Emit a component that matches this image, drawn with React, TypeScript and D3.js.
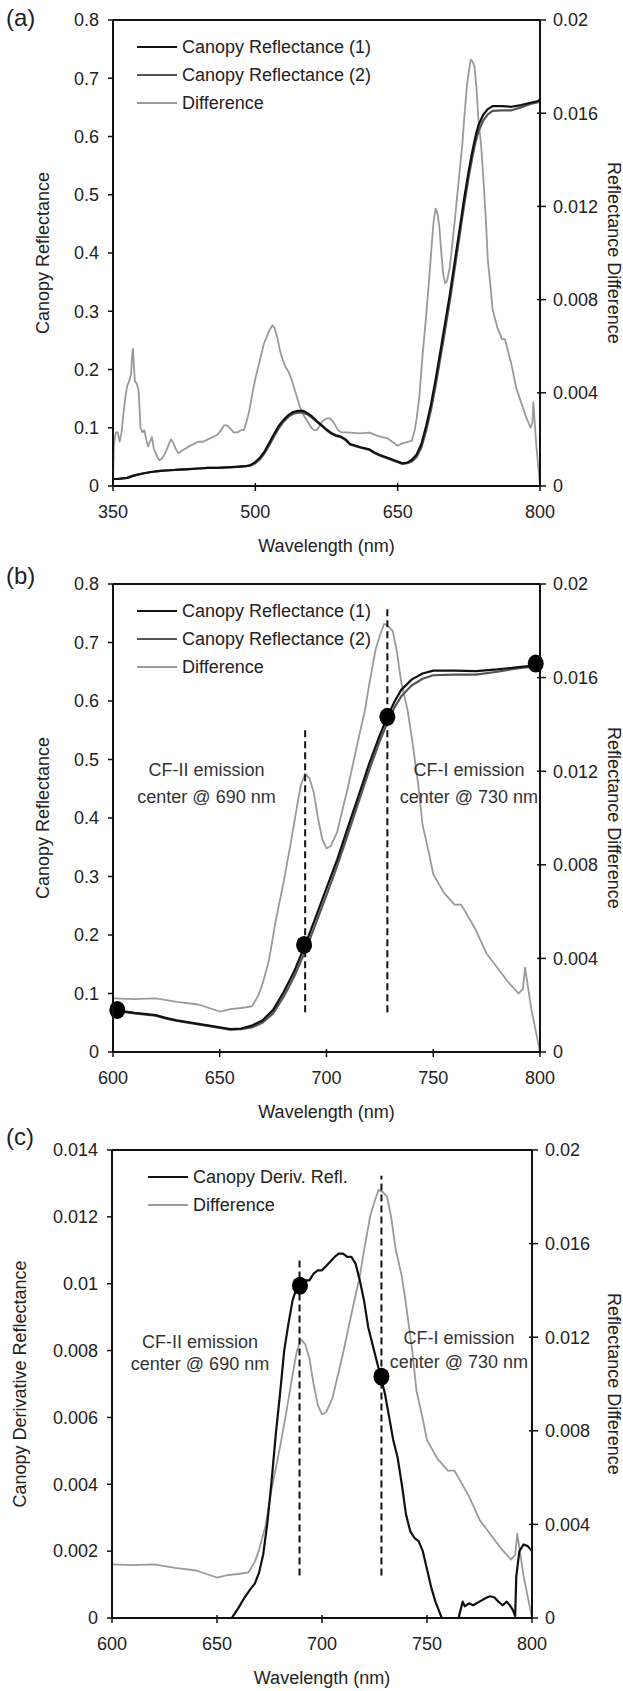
import React from "react";
import * as d3 from "d3";

// ---------- Data ----------
// Reflectance difference (right axis), 350-800 nm
const diffWl = [
  350, 351, 353, 355, 357, 359, 361, 363, 365, 367, 369, 370, 371, 372, 373, 375, 377, 378, 379, 381,
  383, 385, 387, 389, 391, 393, 396, 399, 402, 405, 408, 411, 413, 416, 419, 422, 426, 430, 435, 440,
  445, 450, 455, 460, 464, 467, 470, 473, 477, 481, 485, 488, 491, 494, 497, 500, 503, 506, 509, 512,
  515, 518, 520, 523, 526, 529, 532, 535, 538, 541, 544, 547, 550, 553, 556, 559, 562, 565, 568, 571,
  575, 579, 583, 587, 591, 595,
  600, 610, 620, 630, 640, 650, 655, 660, 665, 668, 670, 673, 676, 680, 683, 686, 688, 690, 692, 694,
  696, 698, 700, 702, 705, 710, 715, 718, 720, 723, 725, 727, 729, 731, 733, 735, 738, 740, 743, 745,
  748, 750, 755, 760, 763, 765, 770, 775, 780, 785, 790, 792, 793, 794, 796, 798, 800,
];
const diffVal = [
  0.0004, 0.0018, 0.0023, 0.0023, 0.0019, 0.0023, 0.0031, 0.0038, 0.0043, 0.0045, 0.0048, 0.0055, 0.0059, 0.0052, 0.0045, 0.0044, 0.0041, 0.0033, 0.0025, 0.0023,
  0.0024, 0.002, 0.0017, 0.0019, 0.0021, 0.0016, 0.0013, 0.0011, 0.0012, 0.0014, 0.0017, 0.002, 0.0019, 0.0016, 0.0014, 0.0015, 0.0016, 0.0017, 0.0018, 0.0019,
  0.0019, 0.002, 0.0021, 0.0022, 0.0024, 0.0026, 0.0026, 0.0025, 0.0023, 0.0023, 0.0024, 0.0024, 0.0028, 0.0033, 0.004, 0.0046, 0.0051, 0.0056, 0.0061, 0.0064,
  0.0067, 0.0069, 0.0068, 0.0064, 0.0058, 0.0054, 0.0051, 0.0049, 0.0046, 0.0042, 0.0038, 0.0034, 0.0031, 0.0029, 0.0027, 0.0025, 0.0024, 0.0024, 0.0026, 0.0028,
  0.0029, 0.0029, 0.0027, 0.0024, 0.0023, 0.0023,
  0.00229, 0.00226, 0.00229, 0.00214, 0.00203, 0.00173, 0.00183, 0.00188, 0.00195, 0.0024, 0.0029, 0.0039, 0.0055, 0.0073, 0.0088, 0.0104, 0.0114, 0.0119, 0.0117, 0.0111,
  0.01, 0.0091, 0.0087, 0.0088, 0.0094, 0.0113, 0.0134, 0.0146, 0.0157, 0.0172, 0.0178, 0.0183, 0.0182, 0.018, 0.0171, 0.0158, 0.0146, 0.0134, 0.0114, 0.0097,
  0.0085, 0.0076, 0.0068, 0.0063, 0.0063, 0.006, 0.0052, 0.0042, 0.0036, 0.003, 0.0025, 0.0027, 0.0036, 0.003, 0.0018, 0.0009, 0.0,
];

// Canopy reflectance (left axis), 350-800 nm
const reflWl = [
  350, 355, 360, 365, 370, 375, 380, 390, 400, 410, 420, 430, 440, 450, 460, 470, 480, 490, 495, 500,
  505, 510, 515, 520, 525, 530, 535, 540, 545, 550, 555, 560, 565, 570, 575, 580, 585, 590, 595, 600,
  610, 620, 625, 630, 640, 650, 655, 660, 665, 670, 675, 680, 685, 690, 695, 700, 705, 710, 715, 720,
  725, 728.5, 732, 735, 740, 745, 750, 760, 770, 780, 790, 798, 800,
];
const refl1 = [
  0.012, 0.012, 0.013, 0.014, 0.017, 0.019, 0.021, 0.024, 0.026, 0.027, 0.028, 0.029, 0.03, 0.031, 0.031, 0.032, 0.033, 0.034, 0.036, 0.041,
  0.049, 0.06, 0.075, 0.09, 0.104, 0.114, 0.122, 0.127, 0.129, 0.129, 0.125, 0.119, 0.111, 0.104, 0.097, 0.091, 0.087, 0.085, 0.08, 0.072,
  0.067, 0.063, 0.058, 0.054, 0.048, 0.042, 0.039, 0.04, 0.045, 0.054, 0.072, 0.103, 0.139, 0.183, 0.231, 0.28, 0.329, 0.384, 0.438, 0.493,
  0.542, 0.573, 0.6, 0.619, 0.637, 0.647, 0.652, 0.652, 0.651, 0.654, 0.658, 0.661, 0.664,
];
const refl2 = [
  0.012, 0.012, 0.013, 0.014, 0.017, 0.019, 0.021, 0.024, 0.026, 0.027, 0.028, 0.029, 0.03, 0.031, 0.031, 0.032, 0.033, 0.034, 0.035, 0.039,
  0.046, 0.057, 0.071, 0.086, 0.1, 0.111, 0.119, 0.124, 0.126, 0.126, 0.123, 0.117, 0.11, 0.103, 0.096, 0.09, 0.086, 0.084, 0.079, 0.071,
  0.066, 0.062, 0.057, 0.053, 0.047, 0.041, 0.038, 0.039, 0.042, 0.05, 0.066, 0.095, 0.13, 0.172, 0.22, 0.268, 0.318, 0.372, 0.427, 0.482,
  0.532, 0.563, 0.59, 0.608, 0.627, 0.638, 0.644, 0.645, 0.645, 0.65, 0.656, 0.659, 0.662,
];

// Canopy derivative reflectance (panel c); null = below axis range
const derivWl = [
  657, 660, 663, 666, 668, 670, 672, 674, 676, 678, 680, 682, 684, 686, 688, 690, 692, 694, 696, 698,
  700, 703, 706, 708, 710, 712, 714, 716, 718, 720, 722, 724, 726, 728, 730, 732, 734, 736, 738, 740,
  742, 744, 746, 748, 750, 752, 754, 756, 757, 761, 765, 767, 768, 770, 772, 775, 778, 780, 782, 784,
  786, 788, 790, 791, 792, 792.5, 794, 796, 798, 800,
];
const derivVal = [
  0, 0.00028, 0.0006, 0.00087, 0.00103, 0.00135, 0.0019, 0.00285, 0.0041, 0.0055, 0.0067, 0.008, 0.0088, 0.0095, 0.0099, 0.01, 0.0101, 0.0101, 0.0103, 0.0104,
  0.0104, 0.0106, 0.0108, 0.0109, 0.0109, 0.0108, 0.0108, 0.0106, 0.0101, 0.0095, 0.0087, 0.0082, 0.0077, 0.0072, 0.0067, 0.006, 0.0053, 0.0048, 0.004, 0.0031,
  0.0026, 0.0024, 0.0023, 0.002, 0.00146, 0.00092, 0.00049, 0.00017, 0, null, 0, 0.00049, 0.00035, 0.00044, 0.00038, 0.00049, 0.0006, 0.00065, 0.00062, 0.00049,
  0.00038, 0.00049, 0.00033, 0.00022, 0.00006, 0.00124, 0.002, 0.0022, 0.00215, 0.002,
];

// Ticks
const xTicksA = [350, 500, 650, 800];
const xTicksBC = [600, 650, 700, 750, 800];
const reflTicks = [0, 0.1, 0.2, 0.3, 0.4, 0.5, 0.6, 0.7, 0.8];
const derivTicks = [0, 0.002, 0.004, 0.006, 0.008, 0.01, 0.012, 0.014];
const diffTicks = [0, 0.004, 0.008, 0.012, 0.016, 0.02];

// Markers / annotations
const dotsB = [
  [602, 0.072],
  [689.5, 0.183],
  [728.5, 0.573],
  [798, 0.664],
];
const dashB = [
  [690, 0.068, 0.557],
  [728.5, 0.068, 0.757],
];
const dotsC = [
  [689.5, 0.00994],
  [728.3, 0.00722],
];
const dashC = [
  [689.3, 0.00127, 0.0108],
  [728.3, 0.00127, 0.01323],
];
const notesB = [
  ["CF-II emission", 643.8, 0.482],
  ["center @ 690 nm", 643.8, 0.436],
  ["CF-I emission", 766.7, 0.482],
  ["center @ 730 nm", 766.7, 0.436],
];
const notesC = [
  ["CF-II emission", 641.9, 0.00827],
  ["center @ 690 nm", 641.9, 0.0076],
  ["CF-I emission", 765.2, 0.00838],
  ["center @ 730 nm", 765.2, 0.00766],
];

const FONT = "'Liberation Sans', Arial, Helvetica, sans-serif";
const TXT = "#222";
const C1 = "#111";
const C2 = "#555";
const CD = "#9a9a9a";

const fmt = (v: number) => String(Number(v.toFixed(6)));

type Series = { xs: number[]; ys: (number | null)[]; axis: "L" | "R"; color: string; width: number };

function Panel(props: any) {
  const {
    id, left, right, top, bottom, xDomain, xTicks, yDomain, yTicks, leftTitle, leftTitleX,
    series, legend, legendLineX, label, labelY, dots, dashes, notes,
  } = props;
  const x = d3.scaleLinear().domain(xDomain).range([left, right]);
  const yL = d3.scaleLinear().domain(yDomain).range([bottom, top]);
  const yR = d3.scaleLinear().domain([0, 0.02]).range([bottom, top]);
  const cy = (top + bottom) / 2;
  const cx = (left + right) / 2;

  return (
    <g>
      <defs>
        <clipPath id={`clip-${id}`}>
          <rect x={left} y={top - 2} width={right - left} height={bottom - top + 2} />
        </clipPath>
      </defs>
      <text x={6} y={labelY} fontSize={24} fill={TXT} fontFamily={FONT}>{label}</text>

      {/* series */}
      <g clipPath={`url(#clip-${id})`}>
        {series.map((s: Series, i: number) => {
          const y = s.axis === "L" ? yL : yR;
          const pts = s.xs.map((xv, k) => [xv, s.ys[k]] as [number, number | null]);
          const line = d3
            .line<[number, number | null]>()
            .defined((d) => d[1] != null)
            .x((d) => x(d[0]))
            .y((d) => y(d[1] as number));
          return (
            <path key={i} d={line(pts) || ""} fill="none" stroke={s.color} strokeWidth={s.width} strokeLinejoin="round" />
          );
        })}
      </g>

      {/* dashed lines */}
      {(dashes || []).map((d: number[], i: number) => (
        <line key={i} x1={x(d[0])} x2={x(d[0])} y1={yL(d[1])} y2={yL(d[2])} stroke="#111" strokeWidth={2} strokeDasharray="7,4" />
      ))}
      {(dots || []).map((d: number[], i: number) => (
        <ellipse key={i} cx={x(d[0])} cy={yL(d[1])} rx={8} ry={9} fill="#000" />
      ))}
      {(notes || []).map((n: any[], i: number) => (
        <text key={i} x={x(n[1])} y={yL(n[2])} dy="0.35em" textAnchor="middle" fontSize={18} fill="#333" fontFamily={FONT}>
          {n[0]}
        </text>
      ))}

      {/* axes frame */}
      <line x1={left} x2={right} y1={top} y2={top} stroke="#111" strokeWidth={2} />
      <line x1={left} x2={right} y1={bottom} y2={bottom} stroke="#111" strokeWidth={2} />
      <line x1={left} x2={left} y1={top} y2={bottom} stroke="#111" strokeWidth={2} />
      <line x1={right} x2={right} y1={top} y2={bottom} stroke="#111" strokeWidth={2} />

      {/* left ticks */}
      {yTicks.map((t: number) => (
        <g key={`l${t}`}>
          <line x1={left - 5} x2={left + 1} y1={yL(t)} y2={yL(t)} stroke="#111" strokeWidth={1.5} />
          <text x={left - 14} y={yL(t)} dy="0.35em" textAnchor="end" fontSize={18} fill={TXT} fontFamily={FONT}>{fmt(t)}</text>
        </g>
      ))}
      {/* right ticks */}
      {diffTicks.map((t: number) => (
        <g key={`r${t}`}>
          <line x1={right - 3} x2={right + 6} y1={yR(t)} y2={yR(t)} stroke="#111" strokeWidth={1.5} />
          <text x={right + 13} y={yR(t)} dy="0.35em" textAnchor="start" fontSize={18} fill={TXT} fontFamily={FONT}>{fmt(t)}</text>
        </g>
      ))}
      {/* bottom ticks */}
      {xTicks.map((t: number) => (
        <g key={`b${t}`}>
          <line x1={x(t)} x2={x(t)} y1={bottom - 3} y2={bottom + 5} stroke="#111" strokeWidth={1.5} />
          <text x={x(t)} y={bottom + 26} dy="0.35em" textAnchor="middle" fontSize={18} fill={TXT} fontFamily={FONT}>{t}</text>
        </g>
      ))}

      {/* titles */}
      <text x={cx} y={bottom + 60} dy="0.35em" textAnchor="middle" fontSize={18} fill={TXT} fontFamily={FONT}>Wavelength (nm)</text>
      <text transform={`translate(${leftTitleX},${cy}) rotate(-90)`} dy="0.35em" textAnchor="middle" fontSize={18} fill={TXT} fontFamily={FONT}>{leftTitle}</text>
      <text transform={`translate(614,${cy}) rotate(90)`} dy="0.35em" textAnchor="middle" fontSize={18} fill={TXT} fontFamily={FONT}>Reflectance Difference</text>

      {/* legend */}
      {legend.map((l: any, i: number) => {
        const ly = top + 27 + i * 28;
        return (
          <g key={`lg${i}`}>
            <line x1={legendLineX} x2={legendLineX + 40} y1={ly} y2={ly} stroke={l.color} strokeWidth={l.width} />
            <text x={legendLineX + 45} y={ly} dy="0.35em" fontSize={18} fill={TXT} fontFamily={FONT}>{l.name}</text>
          </g>
        );
      })}
    </g>
  );
}

export default function App() {
  const bcMask = diffWl.map((w) => w >= 600);
  const diffWlBC = diffWl.filter((_, i) => bcMask[i]);
  const diffValBC = diffVal.filter((_, i) => bcMask[i]);
  const rMask = reflWl.map((w) => w >= 600);
  const reflWlB = reflWl.filter((_, i) => rMask[i]);
  const refl1B = refl1.filter((_, i) => rMask[i]);
  const refl2B = refl2.filter((_, i) => rMask[i]);

  const legendAB = [
    { name: "Canopy Reflectance (1)", color: C1, width: 2.2 },
    { name: "Canopy Reflectance (2)", color: C2, width: 2.2 },
    { name: "Difference", color: CD, width: 1.8 },
  ];
  const legendC = [
    { name: "Canopy Deriv. Refl.", color: C1, width: 2.2 },
    { name: "Difference", color: CD, width: 1.8 },
  ];

  return (
    <svg width={623} height={1691} style={{ position: "absolute", left: 0, top: 0, background: "#fff" }}>
      <rect x={0} y={0} width={623} height={1691} fill="#fff" />
      <Panel
        id="a" left={113} right={540} top={20} bottom={486}
        xDomain={[350, 800]} xTicks={xTicksA} yDomain={[0, 0.8]} yTicks={reflTicks}
        leftTitle="Canopy Reflectance" leftTitleX={43}
        label="(a)" labelY={26}
        legend={legendAB} legendLineX={137}
        series={[
          { xs: diffWl, ys: diffVal, axis: "R", color: CD, width: 1.8 },
          { xs: reflWl, ys: refl2, axis: "L", color: C2, width: 2.2 },
          { xs: reflWl, ys: refl1, axis: "L", color: C1, width: 2.2 },
        ]}
      />
      <Panel
        id="b" left={113} right={540} top={584} bottom={1052}
        xDomain={[600, 800]} xTicks={xTicksBC} yDomain={[0, 0.8]} yTicks={reflTicks}
        leftTitle="Canopy Reflectance" leftTitleX={43}
        label="(b)" labelY={584}
        legend={legendAB} legendLineX={137}
        dots={dotsB} dashes={dashB} notes={notesB}
        series={[
          { xs: diffWlBC, ys: diffValBC, axis: "R", color: CD, width: 1.8 },
          { xs: reflWlB, ys: refl2B, axis: "L", color: C2, width: 2.2 },
          { xs: reflWlB, ys: refl1B, axis: "L", color: C1, width: 2.2 },
        ]}
      />
      <Panel
        id="c" left={112} right={532} top={1150} bottom={1618}
        xDomain={[600, 800]} xTicks={xTicksBC} yDomain={[0, 0.014]} yTicks={derivTicks}
        leftTitle="Canopy Derivative Reflectance" leftTitleX={20}
        label="(c)" labelY={1145}
        legend={legendC} legendLineX={148}
        dots={dotsC} dashes={dashC} notes={notesC}
        series={[
          { xs: diffWlBC, ys: diffValBC, axis: "R", color: CD, width: 1.8 },
          { xs: derivWl, ys: derivVal, axis: "L", color: C1, width: 2.2 },
        ]}
      />
    </svg>
  );
}
